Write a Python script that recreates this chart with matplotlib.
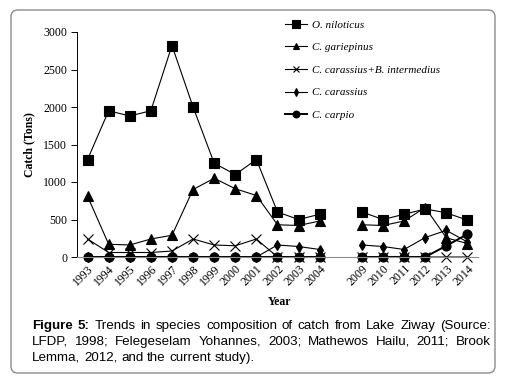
import matplotlib
matplotlib.use("Agg")
import matplotlib.pyplot as plt
import numpy as np
from matplotlib.patches import FancyBboxPatch

# catch data (tons); empty slot between 2004 and 2009
years = ["1993", "1994", "1995", "1996", "1997", "1998", "1999", "2000",
         "2001", "2002", "2003", "2004", "", "2009", "2010", "2011",
         "2012", "2013", "2014"]
nan = np.nan
o_niloticus = [1300, 1950, 1880, 1950, 2820, 2000, 1250, 1100, 1300, 600,
               500, 570, nan, 600, 500, 570, 640, 590, 490]
c_gariepinus = [810, 170, 160, 240, 290, 900, 1050, 910, 820, 430,
                420, 480, nan, 430, 420, 480, 660, 255, 180]
c_carassius_bi = [240, 60, 60, 60, 80, 240, 160, 150, 240, 0,
                  0, 0, nan, 0, 0, 0, 0, 0, 0]
c_carassius = [0, 0, 0, 0, 0, 0, 0, 0, 0, 160,
               140, 100, nan, 160, 140, 100, 260, 355, 200]
c_carpio = [0, 0, 0, 0, 0, 0, 0, 0, 0, 0,
            0, 0, nan, 0, 0, 0, 0, 150, 305]

labels = ["O. niloticus", "C. gariepinus", "C. carassius+B. intermedius",
          "C. carassius", "C. carpio"]

caption_lines = [
    "Figure 5: Trends in species composition of catch from Lake Ziway (Source:",
    "LFDP, 1998; Felegeselam Yohannes, 2003; Mathewos Hailu, 2011; Brook",
    "Lemma, 2012, and the current study).",
]

W, H = 510, 385
fig = plt.figure(figsize=(W / 100, H / 100), dpi=100)

# rounded frame around chart and caption
frame = FancyBboxPatch((0.11, 0.12), 4.84, 3.63,
                       boxstyle="round,pad=0,rounding_size=0.07",
                       transform=fig.dpi_scale_trans, facecolor="none",
                       edgecolor="#8c8c8c", linewidth=1.0, zorder=0)
fig.patches.append(frame)

ax = fig.add_axes([77 / W, 1 - 257 / H, (478 - 77) / W, (257 - 32) / H])
ax.set_facecolor("none")
x = np.arange(len(years))

serif = "Liberation Serif"
styles = [
    (o_niloticus, "s", 7, 0.8),
    (c_gariepinus, "^", 6.5, 0.8),
    (c_carassius_bi, "x", 6.5, 0.8),
    (c_carassius, "d", 5, 0.8),
    (c_carpio, "o", 6.5, 1.4),
]
handles = []
for (vals, mk, ms, lw), lab in zip(styles, labels):
    h, = ax.plot(x, vals, color="black", marker=mk, markersize=ms,
                 linewidth=lw, markeredgewidth=0.8, clip_on=False, label=lab)
    handles.append(h)

ax.set_xlim(-0.5, len(years) - 0.5)
ax.set_ylim(0, 3000)
ax.set_yticks(np.arange(0, 3001, 500))
ax.set_xticks(x)
ax.set_xticklabels(years, rotation=45, ha="right", rotation_mode="anchor",
                   fontfamily=serif, fontsize=8.5)
for t in ax.get_yticklabels():
    t.set_fontfamily(serif)
    t.set_fontsize(8.5)
ax.tick_params(axis="x", length=0, pad=4)
ax.tick_params(axis="y", length=4, width=0.7, pad=3)
for s in ("top", "right"):
    ax.spines[s].set_visible(False)
ax.spines["left"].set_linewidth(0.7)
ax.spines["bottom"].set_color("#8c8c8c")
ax.spines["bottom"].set_linewidth(0.8)

ax.set_ylabel("Catch (Tons)", fontfamily=serif, fontweight="bold",
              fontsize=8.5, labelpad=6)
fig.text(280 / W, 1 - 302 / H, "Year", fontfamily=serif, fontweight="bold",
         fontsize=8.5, ha="center", va="center")

fig.legend(handles, labels, loc="upper left",
           bbox_to_anchor=(285 / W, 1 - 20 / H), frameon=False,
           borderpad=0, borderaxespad=0, handlelength=2.0,
           handletextpad=0.4, labelspacing=1.15, markerscale=0.75,
           prop={"family": serif, "style": "italic", "size": 8})

# caption: first two lines justified between x0 and x1
cap_font = dict(fontfamily="Liberation Sans", fontsize=9.6)
x0, x1 = 32, 491
baselines = [329, 345, 361]
renderer = fig.canvas.get_renderer()
probe_a = fig.text(0, 0, "a b", alpha=0, **cap_font)
probe_b = fig.text(0, 0, "ab", alpha=0, **cap_font)
space_w = (probe_a.get_window_extent(renderer).width
           - probe_b.get_window_extent(renderer).width)
probe_a.remove()
probe_b.remove()
for i, (line, yb) in enumerate(zip(caption_lines, baselines)):
    words = line.split(" ")
    texts = []
    for j, w in enumerate(words):
        bold = i == 0 and j < 2
        t = fig.text(0, 1 - yb / H, w, va="baseline", ha="left",
                     fontweight="bold" if bold else "normal", **cap_font)
        texts.append(t)
    widths = [t.get_window_extent(renderer).width for t in texts]
    if i < len(caption_lines) - 1:
        gap = (x1 - x0 - sum(widths)) / (len(words) - 1)
    else:
        gap = space_w
    pos = x0
    for t, w in zip(texts, widths):
        t.set_x(pos / W)
        pos += w + gap

fig.savefig("out.png", dpi=100)
